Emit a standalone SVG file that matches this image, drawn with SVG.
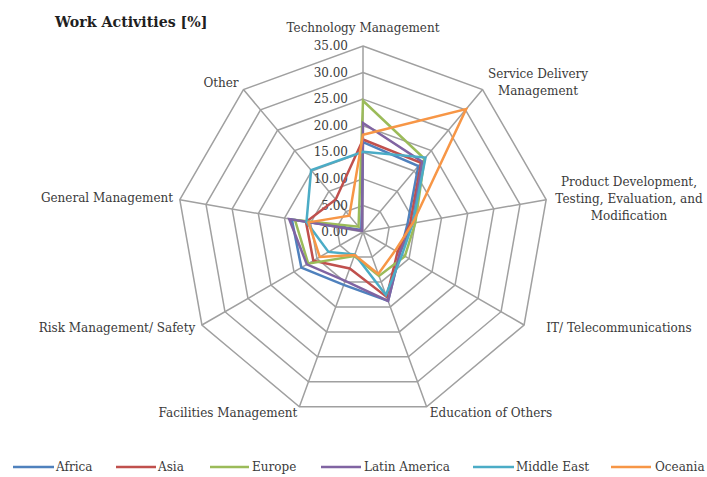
<svg xmlns="http://www.w3.org/2000/svg" width="707" height="477" viewBox="0 0 707 477">
<style>
.bg{fill:#ffffff}
.grid{fill:none;stroke:#a0a0a0;stroke-width:1.5}
.t{font-family:"DejaVu Serif","Liberation Serif",serif;font-size:12px;fill:#3a3a3a}
.tick{text-anchor:end}
.lab{text-anchor:middle}
.title{font-family:"DejaVu Serif","Liberation Serif",serif;font-size:14.2px;font-weight:bold;fill:#1f1f1f}
.s{fill:none;stroke-width:2.5;stroke-linejoin:miter}
.africa{stroke:#4f81bd}
.asia{stroke:#c0504d}
.europe{stroke:#9bbb59}
.latin{stroke:#8064a2}
.me{stroke:#4bacc6}
.oce{stroke:#f79646}
</style>
<defs>
<polygon id="ring" points="0,-100 64.28,-76.60 98.48,-17.36 86.60,50 34.20,93.97 -34.20,93.97 -86.60,50 -98.48,-17.36 -64.28,-76.60" vector-effect="non-scaling-stroke"/>
</defs>
<rect class="bg" x="0" y="0" width="707" height="477"/>
<text class="title" x="55" y="27">Work Activities [%]</text>
<g id="grid" class="grid">
<use href="#ring" transform="translate(363 232) scale(0.26571)"/>
<use href="#ring" transform="translate(363 232) scale(0.53143)"/>
<use href="#ring" transform="translate(363 232) scale(0.79714)"/>
<use href="#ring" transform="translate(363 232) scale(1.06286)"/>
<use href="#ring" transform="translate(363 232) scale(1.32857)"/>
<use href="#ring" transform="translate(363 232) scale(1.59429)"/>
<use href="#ring" transform="translate(363 232) scale(1.86)"/>
<path d="M363 232L363 46M363 232L482.56 89.52M363 232L546.17 199.71M363 232L524.08 325M363 232L426.61 406.78M363 232L299.39 406.78M363 232L201.92 325M363 232L179.83 199.71M363 232L243.44 89.52"/>
</g>
<g id="ticks" class="t tick">
<text x="348" y="236">0.00</text>
<text x="348" y="209.5">5.00</text>
<text x="348" y="183">10.00</text>
<text x="348" y="156.3">15.00</text>
<text x="348" y="129.7">20.00</text>
<text x="348" y="103.1">25.00</text>
<text x="348" y="76.6">30.00</text>
<text x="348" y="50">35.00</text>
</g>
<g id="connectors" transform="translate(363 232) scale(5.3143)">
<polygon id="s-africa" class="s africa" vector-effect="non-scaling-stroke" points="0,-16.9 10.41,-12.41 8.37,-1.48 6.93,4 4.72,12.97 -3.63,9.96 -11.60,6.7 -13.39,-2.36 -0.32,-0.38"/>
<polygon id="s-asia" class="s asia" vector-effect="non-scaling-stroke" points="0,-17.4 10.93,-13.02 8.86,-1.56 6.50,3.75 4.45,12.22 -2.50,6.86 -9.35,5.4 -10.73,-1.89 -5.14,-6.13"/>
<polygon id="s-europe" class="s europe" vector-effect="non-scaling-stroke" points="0,-24.7 11.57,-13.79 9.85,-1.74 7.88,4.55 3.01,8.27 -1.64,4.51 -10.31,5.95 -12.80,-2.26 -0.84,-1.0"/>
<polygon id="s-latin" class="s latin" vector-effect="non-scaling-stroke" points="0,-20.5 11.12,-13.25 9.36,-1.65 6.93,4 4.72,12.97 -3.35,9.21 -10.57,6.1 -13.89,-2.45 -0.19,-0.23"/>
<polygon id="s-me" class="s me" vector-effect="non-scaling-stroke" points="0,-15.1 11.76,-14.02 9.36,-1.65 7.36,4.25 4.31,11.84 -1.54,4.23 -6.50,3.75 -10.64,-1.87 -9.77,-11.64"/>
<polygon id="s-oce" class="s oce" vector-effect="non-scaling-stroke" points="0,-18.3 19.41,-23.13 9.36,-1.65 6.06,3.5 2.87,7.89 -1.57,4.32 -8.14,4.7 -10.24,-1.81 -2.57,-3.06"/>
</g>
<g id="n-tech" class="t lab"><text x="363" y="32">Technology Management</text></g>
<g id="n-service" class="t lab"><text x="538" y="78">Service Delivery</text><text x="538" y="95">Management</text></g>
<g id="n-product" class="t lab"><text x="629" y="186">Product Development,</text><text x="629" y="203">Testing, Evaluation, and</text><text x="629" y="220">Modification</text></g>
<g id="n-it" class="t lab"><text x="619" y="332">IT/ Telecommunications</text></g>
<g id="n-edu" class="t lab"><text x="491" y="417">Education of Others</text></g>
<g id="n-fac" class="t lab"><text x="228" y="417">Facilities Management</text></g>
<g id="n-risk" class="t lab"><text x="117" y="332">Risk Management/ Safety</text></g>
<g id="n-gen" class="t lab"><text x="107" y="202">General Management</text></g>
<g id="n-other" class="t lab"><text x="221" y="87">Other</text></g>
<g id="legend" class="t">
<path class="s africa" d="M13 467H54"/><text x="56" y="471">Africa</text>
<path class="s asia" d="M116 467H156"/><text x="158" y="471">Asia</text>
<path class="s europe" d="M210 467H249"/><text x="252" y="471">Europe</text>
<path class="s latin" d="M321 467H361"/><text x="364" y="471">Latin America</text>
<path class="s me" d="M473 467H514"/><text x="516" y="471">Middle East</text>
<path class="s oce" d="M611 467H651"/><text x="655" y="471">Oceania</text>
</g>
</svg>
